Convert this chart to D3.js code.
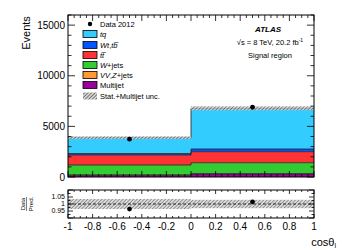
<!DOCTYPE html>
<html>
<head>
<meta charset="utf-8">
<script src="https://cdn.jsdelivr.net/npm/d3@7"></script>
<style>
  body { margin: 0; background: #fff; }
  svg { font-family: "Liberation Sans", Arial, sans-serif; display: block; }
</style>
</head>
<body>
<script>
// bins in cos(theta_l)
const binEdges = [[-1, 0], [0, 1]];
const binCentres = [-0.5, 0.5];

// stacked backgrounds, bottom to top
const multijet = [170, 290];
const vvZjets = [30, 40];
const wjets = [985, 1080];
const ttbar = [990, 1090];
const wtb = [145, 265];
const tq = [1560, 4020];
const data2012 = [3740, 6890];
const uncFrac = [0.036, 0.03];

const stackNames = ['Multijet', 'VV,Z+jets', 'W+jets', 'ttbar', 'Wt,tb', 'tq'];
const stackValues = [multijet, vvZjets, wjets, ttbar, wtb, tq];
const stackColors = ['#990099', '#ff9933', '#33cc33', '#ff3333', '#0055ff', '#33ccff'];

const yTicks = [0, 5000, 10000, 15000];
const xTicks = [-1, -0.8, -0.6, -0.4, -0.2, 0, 0.2, 0.4, 0.6, 0.8, 1];
const ratioTicks = [0.95, 1, 1.05];

const W = 349, H = 251;
const left = 68, right = 314;
const mainTop = 15, mainBottom = 177;
const ratTop = 190, ratBottom = 218;

const svg = d3.select('body').append('svg').attr('width', W).attr('height', H);

const defs = svg.append('defs');
const hatch = defs.append('pattern')
  .attr('id', 'hatch').attr('patternUnits', 'userSpaceOnUse')
  .attr('width', 2.5).attr('height', 2.5)
  .attr('patternTransform', 'rotate(45)');
hatch.append('rect').attr('width', 2.5).attr('height', 2.5).attr('fill', '#d4d4d4');
hatch.append('line').attr('x1', 0).attr('y1', 0).attr('x2', 0).attr('y2', 2.5)
  .attr('stroke', '#333').attr('stroke-width', 1.1);

const x = d3.scaleLinear().domain([-1, 1]).range([left, right]);
const y = d3.scaleLinear().domain([0, 16000]).range([mainBottom, mainTop]);
const yr = d3.scaleLinear().domain([0.9, 1.1]).range([ratBottom, ratTop]);

// stack
const totals = binCentres.map((_, i) => d3.sum(stackValues, s => s[i]));
const g = svg.append('g');
binEdges.forEach((edge, i) => {
  let base = 0;
  stackValues.forEach((s, k) => {
    const top = base + s[i];
    g.append('rect')
      .attr('x', x(edge[0])).attr('width', x(edge[1]) - x(edge[0]))
      .attr('y', y(top)).attr('height', y(base) - y(top))
      .attr('fill', stackColors[k]);
    base = top;
  });
});
// stack outlines (step lines)
let cum = [0, 0];
stackValues.forEach(s => {
  cum = cum.map((c, i) => c + s[i]);
  const pts = [];
  binEdges.forEach((edge, i) => { pts.push([x(edge[0]), y(cum[i])], [x(edge[1]), y(cum[i])]); });
  g.append('path').attr('d', d3.line()(pts)).attr('fill', 'none')
    .attr('stroke', '#222').attr('stroke-width', 0.8);
});
// uncertainty band
binEdges.forEach((edge, i) => {
  const t = totals[i], u = t * uncFrac[i];
  g.append('rect')
    .attr('x', x(edge[0])).attr('width', x(edge[1]) - x(edge[0]))
    .attr('y', y(t + u)).attr('height', y(t - u) - y(t + u))
    .attr('fill', 'url(#hatch)').attr('opacity', 0.8);
});
// data
binCentres.forEach((c, i) => {
  const e = Math.sqrt(data2012[i]);
  g.append('line').attr('x1', x(c)).attr('x2', x(c))
    .attr('y1', y(data2012[i] - e)).attr('y2', y(data2012[i] + e)).attr('stroke', '#000');
  g.append('circle').attr('cx', x(c)).attr('cy', y(data2012[i])).attr('r', 2.4).attr('fill', '#000');
});

// ratio panel
const rg = svg.append('g');
binEdges.forEach((edge, i) => {
  rg.append('rect')
    .attr('x', x(edge[0])).attr('width', x(edge[1]) - x(edge[0]))
    .attr('y', yr(1 + uncFrac[i])).attr('height', yr(1 - uncFrac[i]) - yr(1 + uncFrac[i]))
    .attr('fill', 'url(#hatch)').attr('opacity', 0.8);
});
rg.append('line').attr('x1', left).attr('x2', right).attr('y1', yr(1)).attr('y2', yr(1))
  .attr('stroke', '#000').attr('stroke-dasharray', '3,2').attr('stroke-width', 0.8);
binCentres.forEach((c, i) => {
  rg.append('circle').attr('cx', x(c)).attr('cy', yr(data2012[i] / totals[i])).attr('r', 2.4).attr('fill', '#000');
});

// frames and ticks
function frame(top, bottom) {
  svg.append('rect').attr('x', left).attr('y', top).attr('width', right - left).attr('height', bottom - top)
    .attr('fill', 'none').attr('stroke', '#000').attr('stroke-width', 1);
}
frame(mainTop, mainBottom);
frame(ratTop, ratBottom);

const tk = svg.append('g').attr('stroke', '#000').attr('stroke-width', 0.8);
function xTickMarks(top, bottom, majLen, minLen) {
  d3.range(-1, 1.0001, 0.05).forEach(v => {
    const major = Math.abs(Math.round(v * 5) - v * 5) < 1e-6;
    const L = major ? majLen : minLen;
    tk.append('line').attr('x1', x(v)).attr('x2', x(v)).attr('y1', bottom).attr('y2', bottom - L);
    tk.append('line').attr('x1', x(v)).attr('x2', x(v)).attr('y1', top).attr('y2', top + L);
  });
}
xTickMarks(mainTop, mainBottom, 6, 3);
xTickMarks(ratTop, ratBottom, 4, 2);
d3.range(0, 16001, 1000).forEach(v => {
  const L = v % 5000 === 0 ? 7 : 3.5;
  tk.append('line').attr('x1', left).attr('x2', left + L).attr('y1', y(v)).attr('y2', y(v));
  tk.append('line').attr('x1', right).attr('x2', right - L).attr('y1', y(v)).attr('y2', y(v));
});
d3.range(0.9, 1.1001, 0.025).forEach(v => {
  const major = Math.abs(Math.round(v * 20) - v * 20) < 1e-6;
  const L = major ? 5 : 2.5;
  tk.append('line').attr('x1', left).attr('x2', left + L).attr('y1', yr(v)).attr('y2', yr(v));
  tk.append('line').attr('x1', right).attr('x2', right - L).attr('y1', yr(v)).attr('y2', yr(v));
});

// tick labels
svg.append('g').selectAll('text').data(yTicks).join('text')
  .attr('x', left - 3).attr('y', d => y(d)).attr('dy', '0.35em')
  .attr('text-anchor', 'end').attr('font-size', 10).text(d => d);
svg.append('g').selectAll('text').data(ratioTicks).join('text')
  .attr('x', left - 3).attr('y', d => yr(d)).attr('dy', '0.35em')
  .attr('text-anchor', 'end').attr('font-size', 7).text(d => d);
svg.append('g').selectAll('text').data(xTicks).join('text')
  .attr('x', d => x(d)).attr('y', 230)
  .attr('text-anchor', 'middle').attr('font-size', 10).text(d => d);

// axis titles
svg.append('text').attr('transform', 'translate(30,33) rotate(-90)')
  .attr('text-anchor', 'middle').attr('font-size', 11).text('Events');
const rl = svg.append('g').attr('transform', 'translate(28,204) rotate(-90)');
rl.append('text').attr('y', -3).attr('text-anchor', 'middle').attr('font-size', 6).text('Data');
rl.append('line').attr('x1', -7).attr('x2', 7).attr('y1', -1.5).attr('y2', -1.5).attr('stroke', '#000').attr('stroke-width', 0.5);
rl.append('text').attr('y', 4.5).attr('text-anchor', 'middle').attr('font-size', 6).text('Pred.');
const xt = svg.append('text').attr('x', 336).attr('y', 246).attr('text-anchor', 'end').attr('font-size', 11);
xt.append('tspan').text('cosθ');
xt.append('tspan').attr('font-size', 7).attr('dy', 2).text('l');

// ATLAS labels
svg.append('text').attr('x', 268).attr('y', 32).attr('text-anchor', 'middle')
  .attr('font-size', 8).attr('font-weight', 'bold').attr('font-style', 'italic').text('ATLAS');
const lumi = svg.append('text').attr('x', 270).attr('y', 45).attr('text-anchor', 'middle').attr('font-size', 7.5);
lumi.append('tspan').text('\u221As = 8 TeV, 20.2 fb');
lumi.append('tspan').attr('font-size', 5).attr('dy', -3).text('-1');
svg.append('text').attr('x', 270).attr('y', 58).attr('text-anchor', 'middle').attr('font-size', 7.5).text('Signal region');

// legend
const legY = [24, 34, 45, 55, 65, 75, 85, 96];
const lg = svg.append('g').attr('font-size', 7.5);
lg.append('circle').attr('cx', 90).attr('cy', legY[0]).attr('r', 2.2).attr('fill', '#000');
lg.append('text').attr('x', 100).attr('y', legY[0]).attr('dy', '0.35em').text('Data 2012');
const legLabels = [
  [{t: 'tq', i: true}],
  [{t: 'Wt', i: true}, {t: ',', i: false}, {t: 't', i: true}, {t: 'b\u0305', i: true}],
  [{t: 't', i: true}, {t: 't\u0305', i: true}],
  [{t: 'W', i: true}, {t: '+jets', i: false}],
  [{t: 'VV', i: true}, {t: ',', i: false}, {t: 'Z', i: true}, {t: '+jets', i: false}],
  [{t: 'Multijet', i: false}]
];
const legColors = stackColors.slice().reverse();
legLabels.forEach((parts, k) => {
  const yy = legY[k + 1];
  lg.append('rect').attr('x', 83).attr('y', yy - 3.5).attr('width', 14).attr('height', 7)
    .attr('fill', legColors[k]).attr('stroke', '#000').attr('stroke-width', 0.8);
  const t = lg.append('text').attr('x', 100).attr('y', yy).attr('dy', '0.35em');
  parts.forEach(p => t.append('tspan').attr('font-style', p.i ? 'italic' : 'normal').text(p.t));
});
lg.append('rect').attr('x', 83).attr('y', legY[7] - 3.5).attr('width', 14).attr('height', 7)
  .attr('fill', 'url(#hatch)');
lg.append('text').attr('x', 100).attr('y', legY[7]).attr('dy', '0.35em').text('Stat.+Multijet unc.');
</script>
</body>
</html>
